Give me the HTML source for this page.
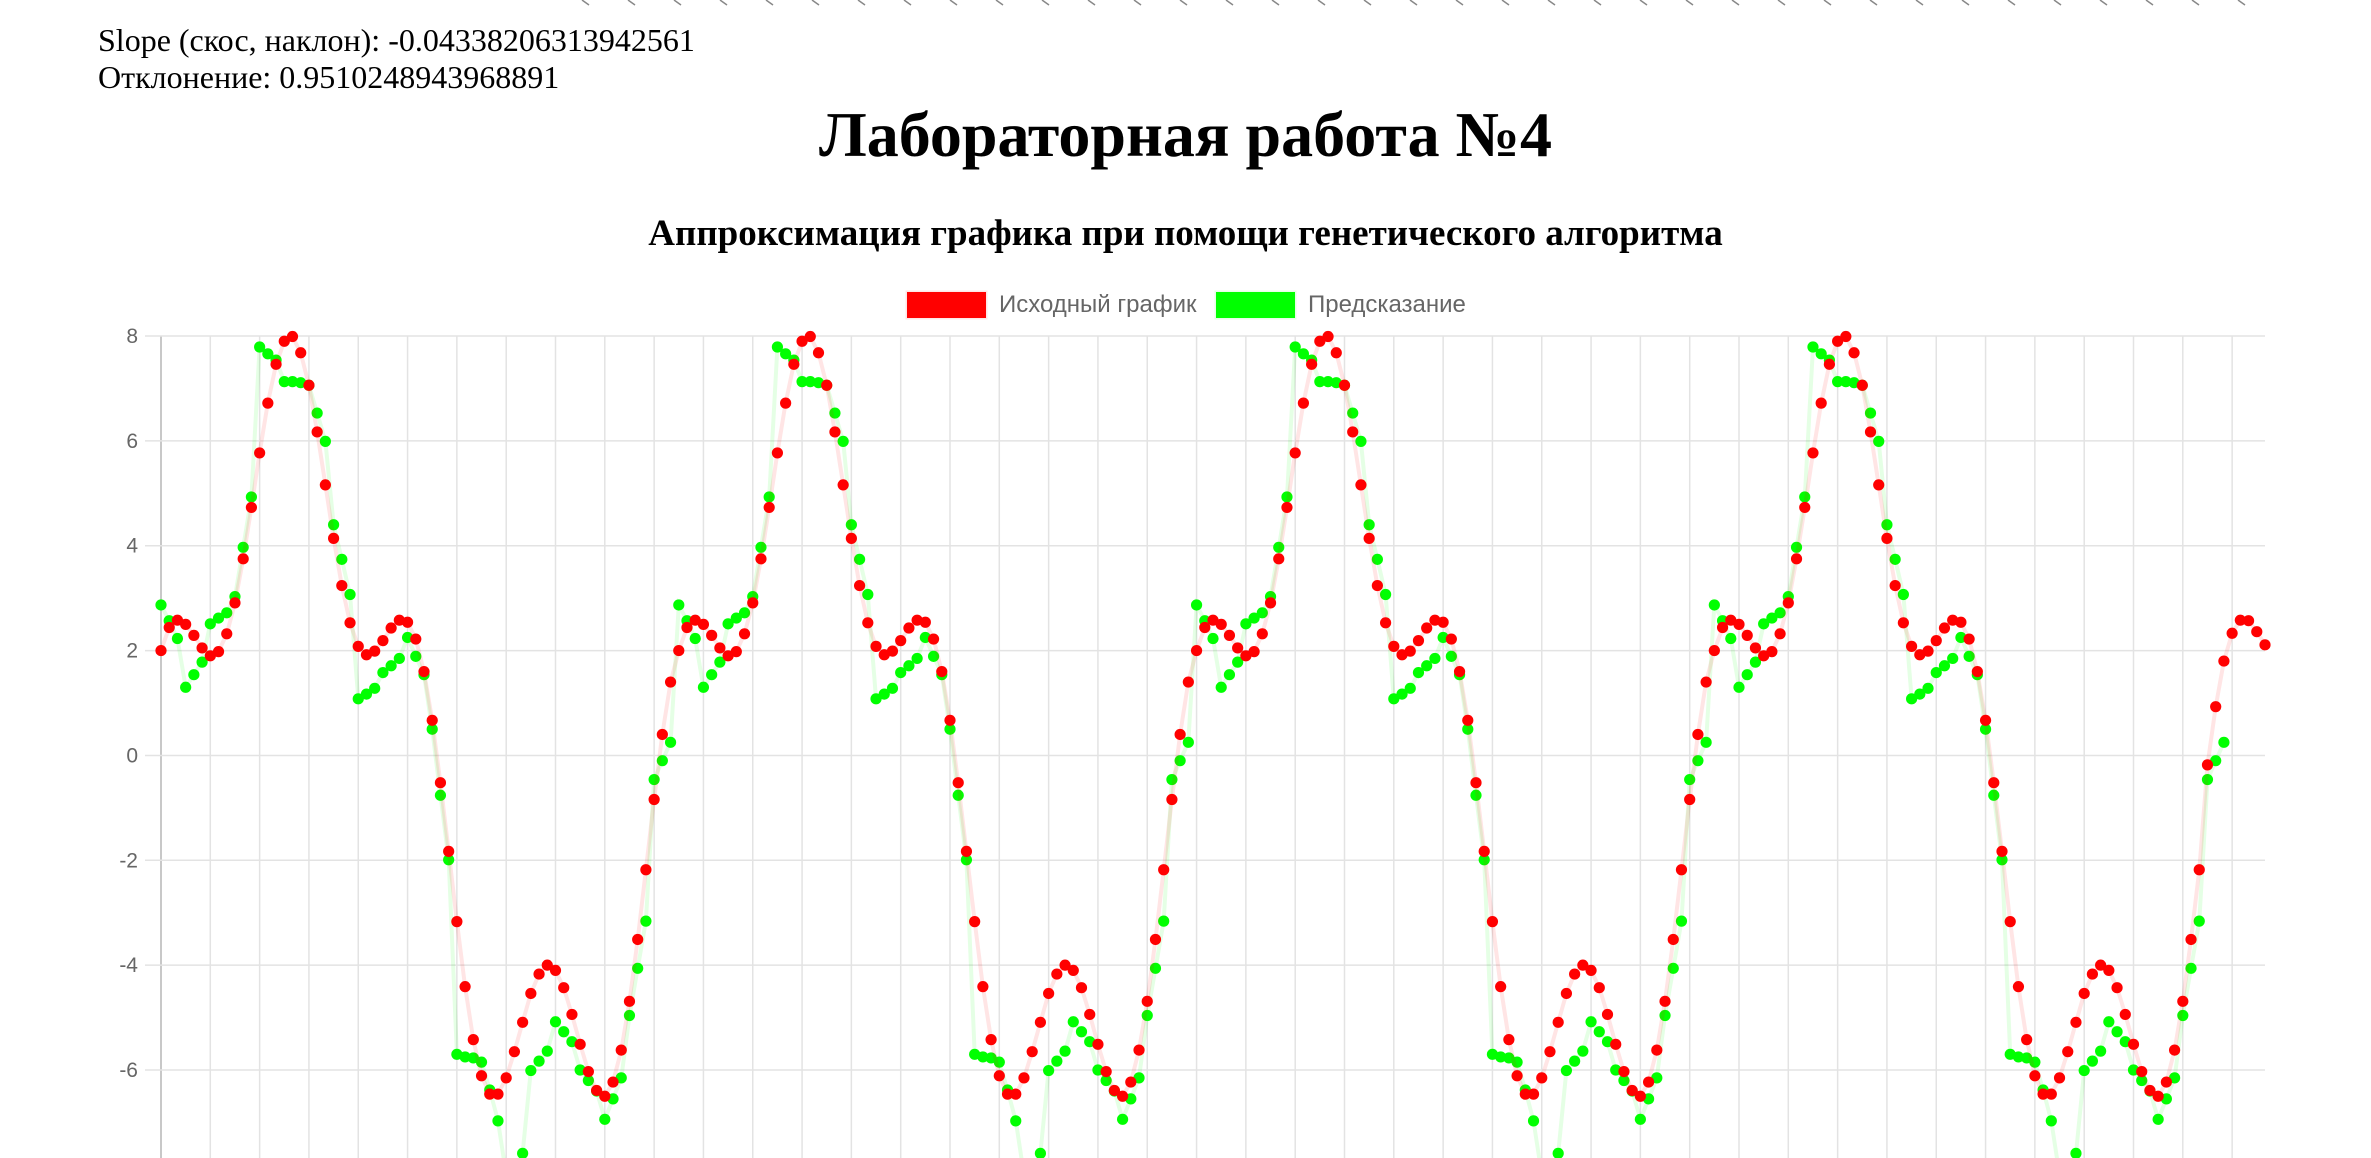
<!DOCTYPE html>
<html><head><meta charset="utf-8">
<style>
html,body{margin:0;padding:0;background:#fff;width:2371px;height:1158px;overflow:hidden;position:relative;}
.t{position:absolute;font-family:"Liberation Serif","Noto Serif CJK SC",serif;color:#000;white-space:nowrap;}
svg{position:absolute;left:0;top:0;}
</style></head>
<body>
<div class="t" style="left:98px;top:22px;font-size:32px;">Slope (скос, наклон): -0.04338206313942561</div>
<div class="t" style="left:98px;top:59px;font-size:32px;">Отклонение: 0.9510248943968891</div>
<div class="t" style="left:0;width:2371px;text-align:center;top:98px;font-size:64px;font-weight:bold;">Лабораторная работа №4</div>
<div class="t" style="left:0;width:2371px;text-align:center;top:212px;font-size:37px;font-weight:bold;">Аппроксимация графика при помощи генетического алгоритма</div>
<svg id="chart" width="2371" height="1158"></svg>
<script>
const redBase=[2.0,2.44,2.58,2.5,2.29,2.05,1.9,1.98,2.32,2.91,3.75,4.73,5.77,6.72,7.46,7.9,7.99,7.68,7.06,6.17,5.16,4.14,3.24,2.53,2.08,1.92,1.99,2.19,2.43,2.58,2.54,2.22,1.6,0.67,-0.52,-1.83,-3.17,-4.41,-5.42,-6.11,-6.46,-6.46,-6.15,-5.65,-5.09,-4.54,-4.17,-4.0,-4.1,-4.43,-4.94,-5.51,-6.03,-6.39,-6.5,-6.23,-5.62,-4.69,-3.51,-2.18,-0.84,0.4,1.4];
const greenBase=[2.87,2.57,2.23,1.3,1.54,1.78,2.51,2.62,2.72,3.03,3.97,4.93,7.79,7.66,7.54,7.13,7.13,7.11,7.06,6.53,5.99,4.4,3.74,3.07,1.08,1.17,1.28,1.58,1.71,1.85,2.25,1.89,1.54,0.5,-0.76,-1.99,-5.7,-5.75,-5.77,-5.85,-6.38,-6.97,-8.0,-8.1,-7.59,-6.01,-5.83,-5.64,-5.08,-5.27,-5.46,-6.0,-6.2,-6.4,-6.94,-6.55,-6.15,-4.96,-4.06,-3.16,-0.46,-0.1,0.25];
const redTail=[-0.18,0.93,1.8,2.33,2.58,2.57,2.36,2.11];
const yTicks=[8,6,4,2,0,-2,-4,-6,-8];
const labelCount=257;
// full series built from the read period values (periodic data)
const redValues=[].concat(redBase,redBase,redBase,redBase.slice(0,60),redTail);
const greenValues=[].concat(greenBase,greenBase,greenBase,greenBase);

const NS='http://www.w3.org/2000/svg';
const svg=document.getElementById('chart');
const X0=161,X1=2265,Y8=336,PU=52.43;
function xs(i){return X0+(X1-X0)*i/(labelCount-1);}
function ys(v){return Y8+(8-v)*PU;}
function mk(t,a){const e=document.createElementNS(NS,t);for(const k in a)e.setAttribute(k,a[k]);svg.appendChild(e);return e;}

// remnants of rotated labels at top
for(let k=0;k<37;k++){const x=582+k*46;const l=mk('line',{x1:x,y1:0,x2:x+7,y2:5,stroke:'#888','stroke-width':1.5});

}

// vertical grid
for(let i=0;i<labelCount;i+=6){const g=mk('line',{x1:xs(i),y1:Y8,x2:xs(i),y2:1158,stroke:i===0?'#c8c8c8':'#e3e3e3','stroke-width':i===0?2:1.5});

}
// horizontal grid + labels
yTicks.forEach(v=>{const y=ys(v);
const g=mk('line',{x1:145,y1:y,x2:X1,y2:y,stroke:'#e3e3e3','stroke-width':1.5});


const t=mk('text',{x:138,y:y+7,'text-anchor':'end','font-family':'Liberation Sans, sans-serif','font-size':21,fill:'#666'});
t.textContent=v;

});

function series(vals,col,line,name){
 let d='';vals.forEach((v,i)=>{d+=(i?'L':'M')+xs(i).toFixed(1)+' '+ys(v).toFixed(1);});
 const p=mk('path',{d:d,fill:'none',stroke:line,'stroke-width':4});
 
 
 vals.forEach((v,i)=>{const c=mk('circle',{cx:xs(i),cy:ys(v),r:5.6,fill:col});
 
 });
}
series(greenValues,'#00ff00','rgba(0,255,0,0.1)','prediction');
series(redValues,'#ff0000','rgba(255,0,0,0.1)','original');

// legend
const lr=mk('rect',{x:907,y:292,width:79,height:26,fill:'#ff0000',stroke:'rgba(255,0,0,0.1)','stroke-width':3});


const lt=mk('text',{x:999,y:312,'font-family':'Liberation Sans, sans-serif','font-size':24,fill:'#666'});lt.textContent='Исходный график';


const gr=mk('rect',{x:1216,y:292,width:79,height:26,fill:'#00ff00',stroke:'rgba(0,255,0,0.1)','stroke-width':3});


const gt=mk('text',{x:1308,y:312,'font-family':'Liberation Sans, sans-serif','font-size':24,fill:'#666'});gt.textContent='Предсказание';


</script>
</body></html>
